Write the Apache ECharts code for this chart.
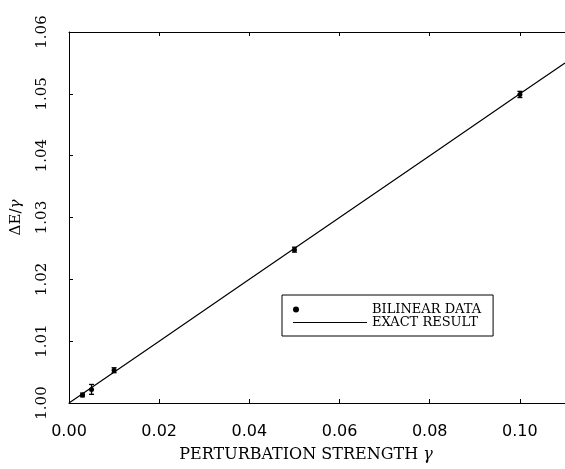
<!DOCTYPE html>
<html>
<head>
<meta charset="utf-8">
<script src="https://cdn.jsdelivr.net/npm/echarts@6/dist/echarts.min.js"></script>
<style>
html,body{margin:0;padding:0;background:#fff;}
#chart{width:565px;height:469px;}
</style>
</head>
<body>
<div id="chart"></div>
<script>
// Data
var gammaData = [0.003, 0.005, 0.010, 0.050, 0.100];
var dEData    = [1.0013, 1.0022, 1.0053, 1.0248, 1.0499];
var errData   = [0.0003, 0.0008, 0.0004, 0.0004, 0.0005];

var exactGamma = [0.00, 0.02, 0.04, 0.06, 0.08, 0.10, 0.11];
var exactDE    = [1.000, 1.010, 1.020, 1.030, 1.040, 1.050, 1.055];

var xTicks = [0.00, 0.02, 0.04, 0.06, 0.08, 0.10];
var yTicks = [1.00, 1.01, 1.02, 1.03, 1.04, 1.05, 1.06];

var seriesNames = ['BILINEAR DATA', 'EXACT RESULT'];

var scatterPts = gammaData.map(function (g, i) { return [g, dEData[i]]; });
var errPts = gammaData.map(function (g, i) { return [g, dEData[i], errData[i]]; });
var linePts = exactGamma.map(function (g, i) { return [g, exactDE[i]]; });

var chart = echarts.init(document.getElementById('chart'), null, {renderer: 'canvas'});
var serif = 'DejaVu Serif';

var option = {
  backgroundColor: '#ffffff',
  animation: false,
  grid: {left: 69, top: 32, bottom: 66, right: -5, show: false},
  legend: {
    left: 282, top: 295,
    orient: 'vertical',
    borderColor: '#000', borderWidth: 1,
    padding: [8, 12, 7, 11],
    itemGap: 0,
    itemWidth: 74, itemHeight: 6,
    textStyle: {fontFamily: serif, fontSize: 13, color: '#000'},
    data: [
      {name: seriesNames[0], icon: 'path://M0,3a3,3 0 1,0 6,0a3,3 0 1,0 -6,0ZM74,0L74,0M74,6L74,6', itemStyle: {color: '#000'}},
      {name: seriesNames[1], icon: 'path://M0,2.4L74,2.4L74,3.6L0,3.6Z', itemStyle: {color: '#000'}}
    ]
  },
  xAxis: [{
    type: 'value', min: 0, max: 0.11, interval: 0.02,
    position: 'bottom',
    name: '{a|PERTURBATION STRENGTH }{g|γ}',
    nameLocation: 'middle', nameGap: 44,
    nameTextStyle: {
      fontFamily: serif, fontSize: 16, color: '#000', padding: [0, 22, 0, 0],
      rich: {
        a: {fontFamily: serif, fontSize: 16, color: '#000'},
        g: {fontFamily: serif, fontSize: 16, fontStyle: 'italic', color: '#000'}
      }
    },
    axisLine: {show: true, lineStyle: {color: '#000', width: 1}},
    axisTick: {show: true, inside: true, length: 4, lineStyle: {color: '#000'}},
    axisLabel: {
      show: true, margin: 21, showMaxLabel: false,
      fontFamily: 'DejaVu Sans', fontSize: 16, color: '#000',
      formatter: function (v) { return xTicks.indexOf(+v.toFixed(2)) >= 0 ? v.toFixed(2) : ''; }
    },
    splitLine: {show: false}
  }, {
    type: 'value', min: 0, max: 0.11, interval: 0.02,
    position: 'top',
    axisLine: {show: true, lineStyle: {color: '#000', width: 1}},
    axisTick: {show: true, inside: true, length: 4, lineStyle: {color: '#000'}},
    axisLabel: {show: false},
    splitLine: {show: false}
  }],
  yAxis: [{
    type: 'value', min: 1.00, max: 1.06, interval: 0.01,
    name: '{a|ΔE/}{g|γ}',
    nameLocation: 'middle', nameGap: 45, nameRotate: 90,
    nameTextStyle: {
      fontFamily: serif, fontSize: 15, color: '#000',
      rich: {
        a: {fontFamily: serif, fontSize: 15, color: '#000'},
        g: {fontFamily: serif, fontSize: 15, fontStyle: 'italic', color: '#000'}
      }
    },
    axisLine: {show: true, lineStyle: {color: '#000', width: 1}},
    axisTick: {show: true, inside: true, length: 4, lineStyle: {color: '#000'}},
    axisLabel: {
      show: true, rotate: 90, margin: 19,
      fontFamily: serif, fontSize: 15, color: '#000',
      formatter: function (v) { return yTicks.indexOf(+v.toFixed(2)) >= 0 ? v.toFixed(2) : ''; }
    },
    splitLine: {show: false}
  }],
  series: [{
    name: seriesNames[1],
    type: 'line',
    data: linePts,
    showSymbol: false, symbol: 'none',
    lineStyle: {color: '#000', width: 1.2},
    itemStyle: {color: '#000'},
    z: 2
  }, {
    name: seriesNames[0],
    type: 'scatter',
    data: scatterPts,
    symbol: 'circle', symbolSize: 5,
    itemStyle: {color: '#000', opacity: 1},
    z: 3
  }, {
    name: 'err',
    type: 'custom',
    data: errPts,
    renderItem: function (params, api) {
      var x = api.value(0), y = api.value(1), e = api.value(2);
      var t = api.coord([x, y + e]);
      var b = api.coord([x, y - e]);
      var w = 2.5;
      var st = {stroke: '#000', lineWidth: 1.3};
      return {
        type: 'group',
        children: [
          {type: 'line', shape: {x1: t[0], y1: t[1], x2: b[0], y2: b[1]}, style: st},
          {type: 'line', shape: {x1: t[0] - w, y1: t[1], x2: t[0] + w, y2: t[1]}, style: st},
          {type: 'line', shape: {x1: b[0] - w, y1: b[1], x2: b[0] + w, y2: b[1]}, style: st}
        ]
      };
    },
    z: 4
  }]
};
chart.setOption(option);
</script>
</body>
</html>
